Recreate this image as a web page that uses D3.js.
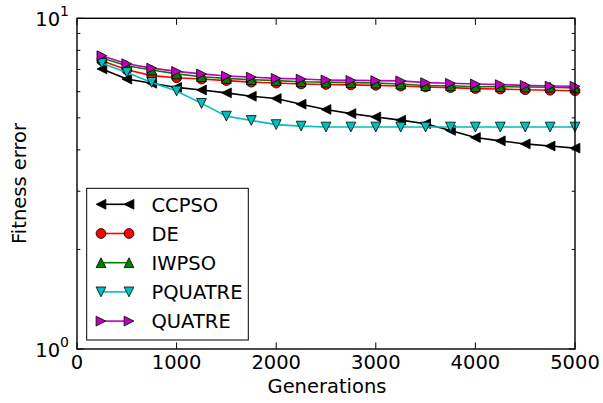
<!DOCTYPE html>
<html>
<head>
<meta charset="utf-8">
<script src="https://cdn.jsdelivr.net/npm/d3@7"></script>
<style>
  body { margin: 0; background: #fff; }
  svg { display: block; font-family: "DejaVu Sans", sans-serif; }
</style>
</head>
<body>
<div id="chart"></div>
<script>
// generations at which fitness error was recorded
var generations = [250, 500, 750, 1000, 1250, 1500, 1750, 2000, 2250, 2500,
                   2750, 3000, 3250, 3500, 3750, 4000, 4250, 4500, 4750, 5000];

var ccpso   = [7.03, 6.55, 6.36, 6.18, 6.07, 5.95, 5.81, 5.72, 5.50, 5.30,
               5.15, 5.03, 4.92, 4.80, 4.58, 4.36, 4.26, 4.17, 4.11, 4.05];
var de      = [7.44, 6.99, 6.71, 6.61, 6.55, 6.48, 6.41, 6.37, 6.33, 6.31,
               6.29, 6.27, 6.24, 6.20, 6.17, 6.13, 6.11, 6.08, 6.06, 6.04];
var iwpso   = [7.59, 7.19, 6.98, 6.79, 6.66, 6.58, 6.52, 6.48, 6.43, 6.41,
               6.39, 6.37, 6.33, 6.26, 6.25, 6.21, 6.21, 6.20, 6.19, 6.16];
var pquatre = [7.31, 6.86, 6.40, 6.03, 5.53, 5.06, 4.91, 4.77, 4.72, 4.69,
               4.69, 4.69, 4.69, 4.69, 4.69, 4.69, 4.69, 4.69, 4.69, 4.69];
var quatre  = [7.71, 7.29, 7.07, 6.91, 6.79, 6.69, 6.64, 6.58, 6.55, 6.51,
               6.49, 6.48, 6.47, 6.39, 6.36, 6.33, 6.30, 6.27, 6.24, 6.23];

var seriesNames = ["CCPSO", "DE", "IWPSO", "PQUATRE", "QUATRE"];
var xTicks = [0, 1000, 2000, 3000, 4000, 5000];
var yMajor = [1, 10];
var yMinor = [2, 3, 4, 5, 6, 7, 8, 9];

var series = [
  {name: seriesNames[0], values: ccpso,   color: "#000000", marker: "left"},
  {name: seriesNames[1], values: de,      color: "#ff0000", marker: "circle"},
  {name: seriesNames[2], values: iwpso,   color: "#008000", marker: "up"},
  {name: seriesNames[3], values: pquatre, color: "#00bfbf", marker: "down"},
  {name: seriesNames[4], values: quatre,  color: "#bf00bf", marker: "right"}
];

var W = 603, H = 403;
var pLeft = 77, pRight = 575, pTop = 18.3, pBottom = 349;

var svg = d3.select("#chart").append("svg")
  .attr("width", W).attr("height", H);

var x = d3.scaleLinear().domain([0, 5000]).range([pLeft, pRight]);
var y = d3.scaleLog().domain([1, 10]).range([pBottom, pTop]);

// marker shapes like matplotlib (half size r)
var ms = 4.9;
function markerPath(kind) {
  var r = ms;
  if (kind === "up") return "M0," + (-r) + "L" + (-r) + "," + r + "L" + r + "," + r + "Z";
  if (kind === "down") return "M0," + r + "L" + (-r) + "," + (-r) + "L" + r + "," + (-r) + "Z";
  if (kind === "left") return "M" + (-r) + ",0L" + r + "," + (-r) + "L" + r + "," + r + "Z";
  if (kind === "right") return "M" + r + ",0L" + (-r) + "," + (-r) + "L" + (-r) + "," + r + "Z";
  return null;
}
function drawMarker(g, kind, cx, cy, color) {
  if (kind === "circle") {
    g.append("circle").attr("cx", cx).attr("cy", cy).attr("r", ms)
      .attr("fill", color).attr("stroke", "#000").attr("stroke-width", 0.8);
  } else {
    g.append("path").attr("d", markerPath(kind))
      .attr("transform", "translate(" + cx + "," + cy + ")")
      .attr("fill", color).attr("stroke", "#000").attr("stroke-width", 0.8);
  }
}

// series
var line = d3.line()
  .x(function(d) { return x(d.g); })
  .y(function(d) { return y(d.v); });

var plot = svg.append("g");
series.forEach(function(s) {
  var pts = generations.map(function(g, i) { return {g: g, v: s.values[i]}; });
  var g = plot.append("g");
  g.append("path").datum(pts)
    .attr("d", line)
    .attr("fill", "none")
    .attr("stroke", s.color)
    .attr("stroke-width", 1.6);
  pts.forEach(function(p) { drawMarker(g, s.marker, x(p.g), y(p.v), s.color); });
});

// frame
svg.append("rect")
  .attr("x", pLeft).attr("y", pTop)
  .attr("width", pRight - pLeft).attr("height", pBottom - pTop)
  .attr("fill", "none").attr("stroke", "#000").attr("stroke-width", 1.4);

// x ticks (inward, bottom and top)
var ticks = svg.append("g").attr("stroke", "#000").attr("stroke-width", 1);
xTicks.forEach(function(t) {
  ticks.append("line").attr("x1", x(t)).attr("x2", x(t)).attr("y1", pBottom).attr("y2", pBottom - 6.5);
  ticks.append("line").attr("x1", x(t)).attr("x2", x(t)).attr("y1", pTop).attr("y2", pTop + 6.5);
  svg.append("text").attr("x", x(t)).attr("y", 369.3)
    .attr("text-anchor", "middle").attr("font-size", 19.5).text(t);
});

// y ticks
yMinor.forEach(function(t) {
  ticks.append("line").attr("x1", pLeft).attr("x2", pLeft + 3.3).attr("y1", y(t)).attr("y2", y(t));
  ticks.append("line").attr("x1", pRight).attr("x2", pRight - 3.3).attr("y1", y(t)).attr("y2", y(t));
});
yMajor.forEach(function(t) {
  ticks.append("line").attr("x1", pLeft).attr("x2", pLeft + 6.5).attr("y1", y(t)).attr("y2", y(t));
  ticks.append("line").attr("x1", pRight).attr("x2", pRight - 6.5).attr("y1", y(t)).attr("y2", y(t));
  var txt = svg.append("text").attr("x", 69).attr("y", y(t) + 7.5)
    .attr("text-anchor", "end").attr("font-size", 19.5);
  txt.append("tspan").text("10");
  txt.append("tspan").attr("dy", -10).attr("font-size", 14).text(Math.round(Math.log10(t)));
});

// axis labels
svg.append("text").attr("x", 327).attr("y", 392.5)
  .attr("text-anchor", "middle").attr("font-size", 19.5).text("Generations");
svg.append("text")
  .attr("transform", "translate(25.5,183.5) rotate(-90)")
  .attr("text-anchor", "middle").attr("font-size", 19.5).text("Fitness error");

// legend
var lg = svg.append("g");
lg.append("rect").attr("x", 86.7).attr("y", 188.3)
  .attr("width", 161.6).attr("height", 151.7)
  .attr("fill", "#fff").attr("stroke", "#000").attr("stroke-width", 1);
series.forEach(function(s, i) {
  var cy = 204.3 + i * 29.2;
  lg.append("line").attr("x1", 101).attr("x2", 129).attr("y1", cy).attr("y2", cy)
    .attr("stroke", s.color).attr("stroke-width", 1.6);
  drawMarker(lg, s.marker, 101, cy, s.color);
  drawMarker(lg, s.marker, 129, cy, s.color);
  lg.append("text").attr("x", 151.5).attr("y", cy + 7.2)
    .attr("font-size", 19.5).text(s.name);
});
</script>
</body>
</html>
